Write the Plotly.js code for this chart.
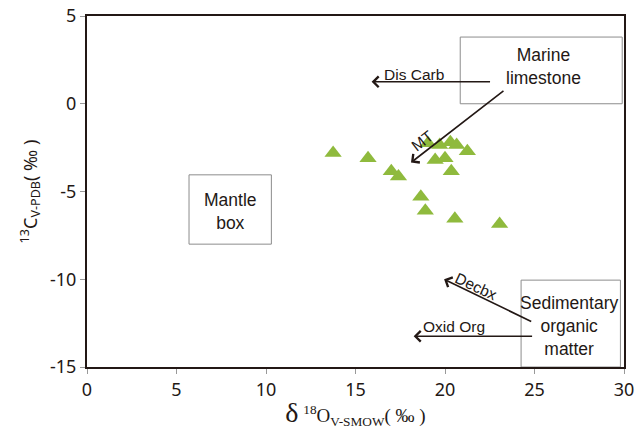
<!DOCTYPE html>
<html>
<head>
<meta charset="utf-8">
<script src="https://cdn.plot.ly/plotly-3.0.1.min.js"></script>
<style>html,body{margin:0;padding:0;background:#fff;}#chart{width:644px;height:429px;}</style>
</head>
<body>
<div id="chart"></div>
<script>
// Sample data: delta18O (V-SMOW) and delta13C (V-PDB)
const d18O = [13.75, 15.7, 17.0, 17.4, 18.65, 18.9, 20.55, 23.05,
              19.05, 19.7, 20.3, 20.65, 21.25, 19.45, 20.0, 20.35];
const d13C = [-2.8, -3.1, -3.85, -4.15, -5.3, -6.1, -6.55, -6.85,
              -2.25, -2.35, -2.2, -2.35, -2.7, -3.2, -3.1, -3.85];

// Source field boxes [x0, x1, y0, y1]
const boxNames = ["Marine<br>limestone", "Mantle<br>box", "Sedimentary<br>organic<br>matter"];
const boxX0 = [20.85, 5.7, 24.25];
const boxX1 = [29.9, 10.3, 29.8];
const boxY0 = [0, -8.0, -15];
const boxY1 = [3.8, -4.05, -10.05];
const boxLabelX = [25.5, 8.0, 26.95];
const boxLabelY = [2.1, -6.15, -12.65];

// Process arrows: tail -> head
const arrowNames = ["Dis Carb", "MT", "Decbx", "Oxid Org"];
const arrowTailX = [22.6, 23.35, 24.9, 24.95];
const arrowTailY = [1.25, 0.8, -12.45, -13.25];
const arrowHeadX = [15.9, 18.1, 19.95, 18.25];
const arrowHeadY = [1.25, -3.35, -10.0, -13.25];
const arrowLabelX = [18.25, 18.75, 21.75, 20.5];
const arrowLabelY = [1.65, -2.1, -10.42, -12.72];
const arrowLabelAngle = [0, -38, 25, 0];

const xTicks = [0, 5, 10, 15, 20, 25, 30];
const yTicks = [5, 0, -5, -10, -15];

const ink = '#231815';
const shapes = boxNames.map((n, i) => ({
  type: 'rect', xref: 'x', yref: 'y',
  x0: boxX0[i], x1: boxX1[i], y0: boxY0[i], y1: boxY1[i],
  line: {color: '#8c8c8c', width: 1}, fillcolor: 'rgba(0,0,0,0)', layer: 'below'
}));

const annotations = [];
boxNames.forEach((n, i) => annotations.push({
  x: boxLabelX[i], y: boxLabelY[i], xref: 'x', yref: 'y', text: n, showarrow: false,
  font: {family: 'Liberation Sans, Arial, sans-serif', size: 17.5, color: ink}
}));
arrowNames.forEach((n, i) => {
  annotations.push({
    x: arrowHeadX[i], y: arrowHeadY[i], ax: arrowTailX[i], ay: arrowTailY[i],
    xref: 'x', yref: 'y', axref: 'x', ayref: 'y', text: '', showarrow: true,
    arrowhead: 4, arrowsize: 1.3, arrowwidth: 1.6, arrowcolor: ink, standoff: 0, startstandoff: 0
  });
  annotations.push({
    x: arrowLabelX[i], y: arrowLabelY[i], xref: 'x', yref: 'y', text: n, showarrow: false,
    textangle: arrowLabelAngle[i],
    font: {family: 'Liberation Sans, Arial, sans-serif', size: 15.5, color: ink}
  });
});

const trace = {
  x: d18O, y: d13C, type: 'scatter', mode: 'markers',
  marker: {symbol: 'triangle-up', size: 15, color: '#8fba3d', line: {width: 0}},
  hoverinfo: 'x+y'
};

const layout = {
  width: 644, height: 429,
  margin: {l: 87, r: 20, t: 16, b: 62},
  paper_bgcolor: '#fff', plot_bgcolor: '#fff',
  showlegend: false,
  font: {family: 'Noto Sans, sans-serif', color: ink},
  xaxis: {
    range: [0, 30], tickvals: xTicks, ticktext: xTicks.map(String),
    ticks: 'outside', ticklen: 5, tickcolor: '#999', tickwidth: 1,
    showline: true, mirror: true, linecolor: ink, linewidth: 2,
    showgrid: false, zeroline: false,
    tickfont: {family: 'Noto Sans, sans-serif', size: 18, color: ink},
    title: {text: '<span style="font-size:28px">δ</span> <sup>18</sup>O<sub>V-SMOW</sub>( ‰ )',
            font: {family: 'Liberation Serif, serif', size: 19, color: ink}, standoff: 2}
  },
  yaxis: {
    range: [-15, 5], tickvals: yTicks, ticktext: yTicks.map(String),
    ticks: 'outside', ticklen: 5, tickcolor: '#999', tickwidth: 1,
    showline: true, mirror: true, linecolor: ink, linewidth: 2,
    showgrid: false, zeroline: false,
    tickfont: {family: 'Noto Sans, sans-serif', size: 18, color: ink},
    title: {text: '<sup>13</sup>C<sub>V-PDB</sub>( ‰ )',
            font: {family: 'Noto Sans, sans-serif', size: 18, color: ink}, standoff: 8}
  },
  shapes: shapes,
  annotations: annotations
};

Plotly.newPlot('chart', [trace], layout, {displayModeBar: false, staticPlot: true});
</script>
</body>
</html>
